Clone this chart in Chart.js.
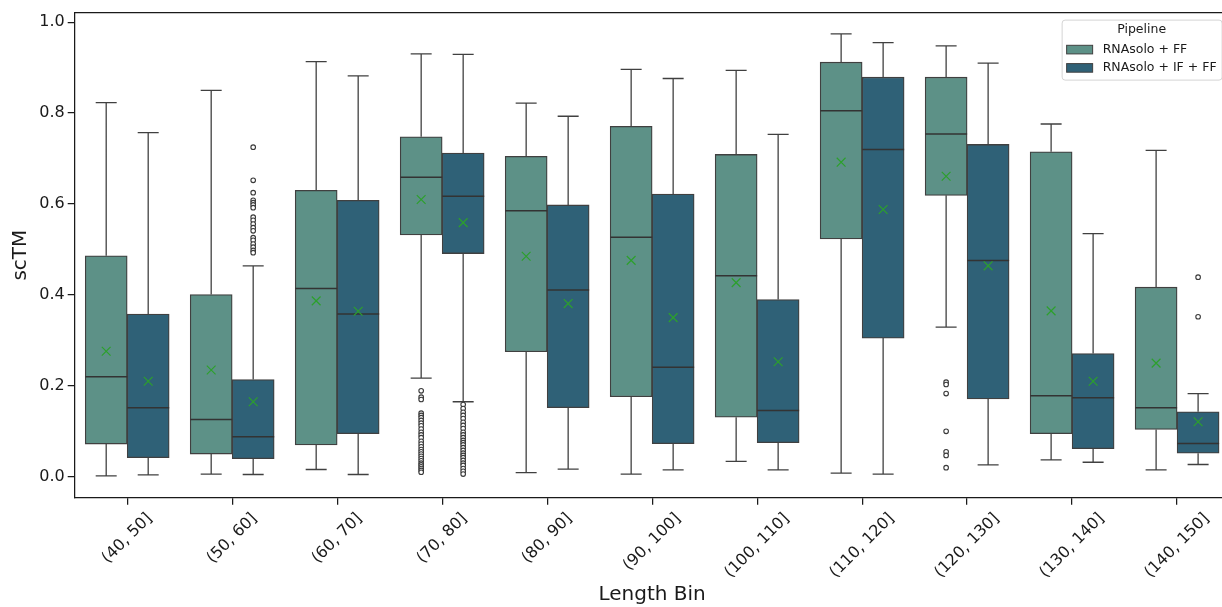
<!DOCTYPE html>
<html>
<head>
<meta charset="utf-8">
<script src="https://cdn.jsdelivr.net/npm/chart.js@4.4.1/dist/chart.umd.min.js"></script>
<style>
  html, body { margin: 0; padding: 0; background: #fff; overflow: hidden; }
  #wrap { position: relative; width: 1222px; height: 607px; overflow: hidden; }
  #chart { position: absolute; left: 0; top: 0; display: block; width: 1237px; height: 607px; }
</style>
</head>
<body>
<div id="wrap"><canvas id="chart" width="1237" height="607"></canvas></div>
<script>
// ------------------------------------------------------
// Datos
// ------------------------------------------------------
const categories = ["(40, 50]", "(50, 60]", "(60, 70]", "(70, 80]", "(80, 90]", "(90, 100]",
  "(100, 110]", "(110, 120]", "(120, 130]", "(130, 140]", "(140, 150]"];
const seriesNames = ["RNAsolo + FF", "RNAsolo + IF + FF"];
const yTicks = [0.0, 0.2, 0.4, 0.6, 0.8, 1.0];

// RNAsolo + FF
const ffLow    = [0.002, 0.006, 0.016, 0.217, 0.009, 0.006, 0.034, 0.008, 0.329, 0.037, 0.015];
const ffQ1     = [0.072, 0.050, 0.070, 0.532, 0.275, 0.176, 0.131, 0.523, 0.619, 0.095, 0.104];
const ffMedian = [0.220, 0.126, 0.414, 0.659, 0.585, 0.527, 0.442, 0.805, 0.754, 0.178, 0.152];
const ffQ3     = [0.486, 0.401, 0.630, 0.748, 0.705, 0.771, 0.709, 0.912, 0.879, 0.715, 0.417];
const ffHigh   = [0.823, 0.850, 0.913, 0.930, 0.822, 0.896, 0.894, 0.974, 0.948, 0.776, 0.718];
const ffMean   = [0.276, 0.235, 0.387, 0.610, 0.485, 0.476, 0.427, 0.692, 0.661, 0.365, 0.250];
const ffOutliers = [
  [], [], [],
  [0.189, 0.175, 0.170, 0.140, 0.135, 0.130, 0.124, 0.118, 0.112, 0.105, 0.098, 0.092, 0.086, 0.078,
   0.072, 0.066, 0.060, 0.055, 0.050, 0.045, 0.040, 0.035, 0.030, 0.026, 0.022, 0.018, 0.014, 0.010],
  [], [], [], [],
  [0.208, 0.203, 0.183, 0.100, 0.055, 0.047, 0.020],
  [], []
];

// RNAsolo + IF + FF
const ifLow    = [0.004, 0.005, 0.005, 0.165, 0.017, 0.015, 0.015, 0.006, 0.026, 0.032, 0.027];
const ifQ1     = [0.042, 0.040, 0.095, 0.491, 0.152, 0.073, 0.075, 0.305, 0.171, 0.062, 0.052];
const ifMedian = [0.152, 0.088, 0.358, 0.617, 0.411, 0.241, 0.146, 0.720, 0.476, 0.174, 0.073];
const ifQ3     = [0.358, 0.214, 0.608, 0.712, 0.598, 0.622, 0.390, 0.879, 0.731, 0.271, 0.143];
const ifHigh   = [0.757, 0.464, 0.882, 0.929, 0.793, 0.876, 0.753, 0.955, 0.910, 0.535, 0.183];
const ifMean   = [0.210, 0.165, 0.364, 0.559, 0.381, 0.350, 0.253, 0.588, 0.464, 0.210, 0.121];
const ifOutliers = [
  [],
  [0.725, 0.652, 0.625, 0.608, 0.603, 0.598, 0.592, 0.571, 0.564, 0.556, 0.548, 0.541, 0.526,
   0.520, 0.512, 0.505, 0.498, 0.493],
  [],
  [0.159, 0.150, 0.142, 0.135, 0.128, 0.120, 0.113, 0.106, 0.098, 0.092, 0.086, 0.080, 0.075,
   0.070, 0.064, 0.058, 0.052, 0.047, 0.042, 0.036, 0.030, 0.025, 0.018, 0.012, 0.006],
  [], [], [], [], [], [],
  [0.439, 0.352]
];

// ------------------------------------------------------
// Estilos
// ------------------------------------------------------
const FONT = "'DejaVu Sans', sans-serif";
const COL_FF = "#5d9187";
const COL_IF = "#2f6177";
const EDGE = "#404040";
const AXIS = "#1a1a1a";
const DODGE = 0.2;   // desplazamiento de cada caja respecto de la categoria
const CAP = 0.1;     // media anchura de los topes

/* =======================================================
   Helpers para armar las marcas a partir de los arrays
======================================================= */
function boxBars(q1, q3, dx) {
  return q1.map((v, i) => ({ x: i + dx, y: [v, q3[i]] }));
}

function whiskerPoints(low, q1, q3, high, dx) {
  const pts = [];
  categories.forEach((_, i) => {
    const x = i + dx;
    pts.push({ x, y: q3[i] }, { x, y: high[i] }, { x, y: null });
    pts.push({ x, y: q1[i] }, { x, y: low[i] }, { x, y: null });
    pts.push({ x: x - CAP, y: high[i] }, { x: x + CAP, y: high[i] }, { x, y: null });
    pts.push({ x: x - CAP, y: low[i] }, { x: x + CAP, y: low[i] }, { x, y: null });
  });
  return pts;
}

function medianPoints(med, dx) {
  const pts = [];
  med.forEach((m, i) => {
    pts.push({ x: i + dx - DODGE, y: m }, { x: i + dx + DODGE, y: m }, { x: i, y: null });
  });
  return pts;
}

function meanPoints(mean, dx) {
  return mean.map((m, i) => ({ x: i + dx, y: m }));
}

function outlierPoints(out, dx) {
  const pts = [];
  out.forEach((list, i) => list.forEach((v) => pts.push({ x: i + dx, y: v })));
  return pts;
}

function boxSet(label, data, color) {
  return {
    type: "bar", label, data, backgroundColor: color, borderColor: EDGE, borderWidth: 1.3,
    borderSkipped: false, grouped: false, categoryPercentage: 1.0, barPercentage: 1.0, order: 5,
  };
}

function lineSet(data, color, width, order) {
  return {
    type: "line", data, borderColor: color, borderWidth: width,
    pointRadius: 0, pointHoverRadius: 0, showLine: true, spanGaps: false, fill: false, order,
  };
}

function pointSet(data, opts, order) {
  return Object.assign({ type: "line", data, showLine: false, order, pointHoverRadius: 0 }, opts);
}

/* =======================================================
   Plugins: borde superior, etiquetas rotadas y leyenda
======================================================= */
const frame = {
  id: "frame",
  afterDraw(chart) {
    const { ctx, chartArea: a } = chart;
    ctx.save();
    ctx.strokeStyle = AXIS;
    ctx.lineWidth = 1.25;
    ctx.beginPath();
    ctx.moveTo(a.left, a.top);
    ctx.lineTo(a.right, a.top);
    ctx.stroke();
    ctx.restore();
  },
};

const rotatedLabels = {
  id: "rotatedLabels",
  afterDraw(chart) {
    const { ctx } = chart;
    const sx = chart.scales.x;
    const top = chart.chartArea.bottom + 14.5;
    ctx.save();
    ctx.font = `16px ${FONT}`;
    ctx.fillStyle = AXIS;
    ctx.textAlign = "center";
    ctx.textBaseline = "middle";
    categories.forEach((lab, i) => {
      const x = sx.getPixelForValue(i);
      const w = ctx.measureText(lab).width;
      const cy = top + (w + 11) / (2 * Math.SQRT2);
      ctx.save();
      ctx.translate(x, cy);
      ctx.rotate(-Math.PI / 4);
      ctx.fillText(lab, 0, 0);
      ctx.restore();
    });
    ctx.restore();
  },
};

const boxLegend = {
  id: "boxLegend",
  afterDraw(chart) {
    const { ctx, chartArea: a } = chart;
    const items = chart.data.datasets.filter((d) => d.type === "bar");
    ctx.save();
    ctx.font = `12.5px ${FONT}`;
    const textW = Math.max(...items.map((d) => ctx.measureText(d.label).width));
    const w = 41 + textW + 5;
    const h = 60;
    const right = a.right - 8;
    const left = right - w;
    const top = a.top + 7;
    ctx.fillStyle = "rgba(255,255,255,0.85)";
    ctx.strokeStyle = "#d4d4d4";
    ctx.lineWidth = 1;
    ctx.beginPath();
    ctx.roundRect(left + 0.5, top + 0.5, w, h, 3);
    ctx.fill();
    ctx.stroke();
    ctx.fillStyle = AXIS;
    ctx.textBaseline = "middle";
    ctx.textAlign = "center";
    ctx.fillText("Pipeline", left + w / 2, top + 10.5);
    ctx.textAlign = "left";
    items.forEach((d, k) => {
      const cy = top + 30 + k * 18.3;
      ctx.fillStyle = d.backgroundColor;
      ctx.fillRect(left + 5, cy - 4.3, 26, 8.6);
      ctx.strokeStyle = d.borderColor;
      ctx.lineWidth = 1;
      ctx.strokeRect(left + 5, cy - 4.3, 26, 8.6);
      ctx.fillStyle = AXIS;
      ctx.fillText(d.label, left + 41, cy);
    });
    ctx.restore();
  },
};

/* =======================================================
   Grafico
======================================================= */
const outlierStyle = { pointStyle: "circle", pointRadius: 2.3, pointBorderWidth: 1.1, pointBorderColor: "#3a3a3a", pointBackgroundColor: "#fff" };
const meanStyle = { pointStyle: "crossRot", pointRadius: 6.2, pointBorderWidth: 1.2, pointBorderColor: "#2ca02c" };

const datasets = [
  boxSet(seriesNames[0], boxBars(ffQ1, ffQ3, -DODGE), COL_FF),
  boxSet(seriesNames[1], boxBars(ifQ1, ifQ3, DODGE), COL_IF),
  lineSet(whiskerPoints(ffLow, ffQ1, ffQ3, ffHigh, -DODGE), EDGE, 1.3, 6),
  lineSet(whiskerPoints(ifLow, ifQ1, ifQ3, ifHigh, DODGE), EDGE, 1.3, 6),
  lineSet(medianPoints(ffMedian, -DODGE), "#333", 1.5, 2),
  lineSet(medianPoints(ifMedian, DODGE), "#333", 1.5, 2),
  pointSet(outlierPoints(ffOutliers, -DODGE), outlierStyle, 3),
  pointSet(outlierPoints(ifOutliers, DODGE), outlierStyle, 3),
  pointSet(meanPoints(ffMean, -DODGE), meanStyle, 1),
  pointSet(meanPoints(ifMean, DODGE), meanStyle, 1),
];

new Chart(document.getElementById("chart"), {
  type: "bar",
  data: { datasets },
  options: {
    responsive: false,
    animation: false,
    events: [],
    layout: { padding: { top: 12, right: 2.5, bottom: 0, left: 0 } },
    plugins: { legend: { display: false }, tooltip: { enabled: false } },
    scales: {
      x: {
        type: "linear",
        offset: false,
        min: -0.5,
        max: 10.5,
        afterBuildTicks: (s) => { s.ticks = categories.map((_, i) => ({ value: i })); },
        grid: { display: true, offset: false, drawOnChartArea: false, drawTicks: true, tickLength: 7, color: AXIS, lineWidth: 1.25 },
        border: { display: true, color: AXIS, width: 1.25 },
        ticks: { display: false },
        title: { display: true, text: "Length Bin", color: AXIS, font: { family: FONT, size: 20 }, padding: { top: 0, bottom: 0 } },
        afterFit: (s) => { s.height = 109.3; },
      },
      y: {
        min: -0.046,
        max: 1.021,
        afterBuildTicks: (s) => { s.ticks = yTicks.map((v) => ({ value: v })); },
        grid: { display: true, drawOnChartArea: false, drawTicks: true, tickLength: 7, color: AXIS, lineWidth: 1.25 },
        border: { display: true, color: AXIS, width: 1.25 },
        ticks: { color: AXIS, padding: 3, font: { family: FONT, size: 16 }, callback: (v) => Number(v).toFixed(1) },
        title: { display: true, text: "scTM", color: AXIS, font: { family: FONT, size: 20 }, padding: { top: 9, bottom: 0 } },
        afterFit: (s) => { s.width = 74.7; },
      },
    },
  },
  plugins: [frame, rotatedLabels, boxLegend],
});
</script>
</body>
</html>
